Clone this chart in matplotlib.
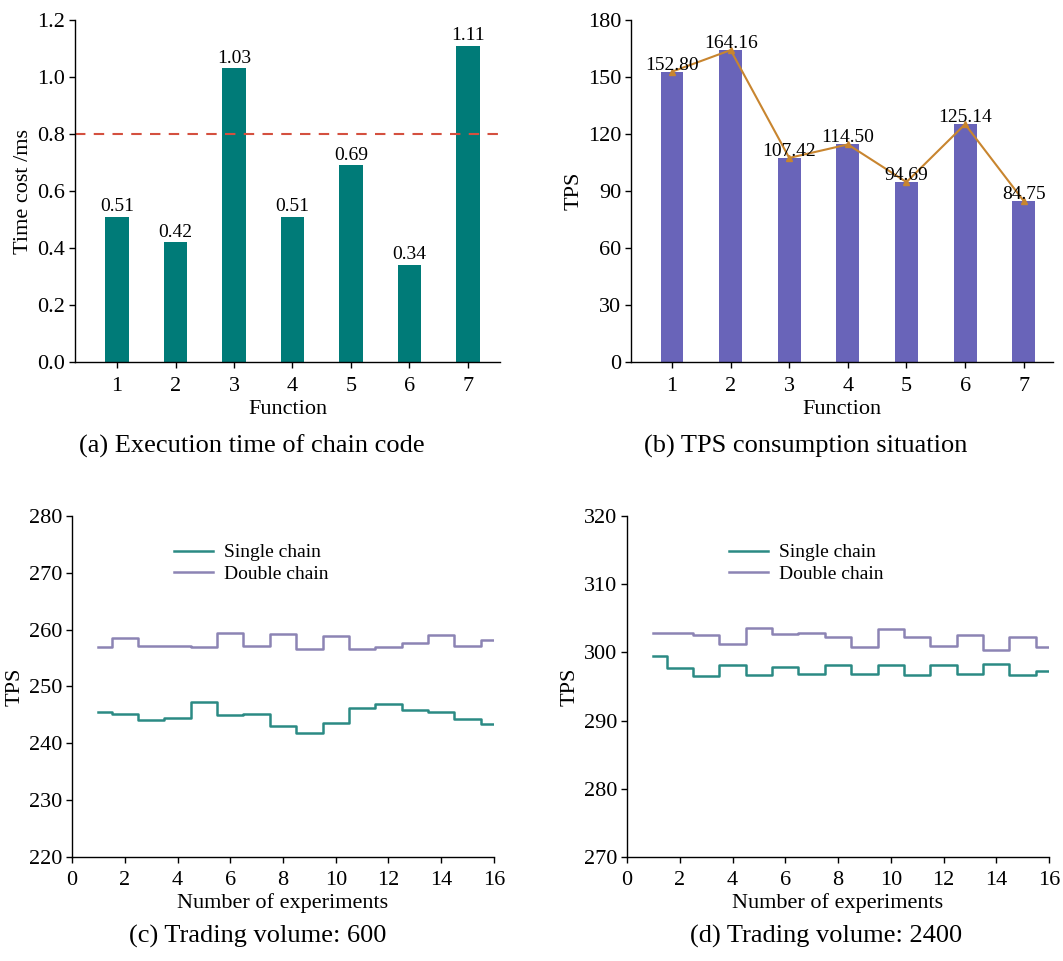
import matplotlib
matplotlib.use("Agg")
import matplotlib.pyplot as plt

plt.rcParams["font.family"] = ["Liberation Serif", "DejaVu Serif"]
plt.rcParams["axes.linewidth"] = 1.0

W, H = 1063, 961

# (a) execution time of chain code
functions = [1, 2, 3, 4, 5, 6, 7]
time_cost = [0.51, 0.42, 1.03, 0.51, 0.69, 0.34, 1.11]
threshold = 0.8

# (b) TPS per function
tps_func = [152.80, 164.16, 107.42, 114.50, 94.69, 125.14, 84.75]

# (c) trading volume 600
experiments = list(range(1, 17))
single_600 = [245.5, 245.2, 244.1, 244.5, 247.2, 245.0, 245.2, 243.1,
              241.9, 243.5, 246.2, 247.0, 245.9, 245.5, 244.2, 243.4]
double_600 = [256.9, 258.6, 257.1, 257.1, 256.9, 259.5, 257.1, 259.3,
              256.6, 258.8, 256.6, 256.9, 257.6, 259.0, 257.1, 258.1]

# (d) trading volume 2400
single_2400 = [299.4, 297.7, 296.5, 298.1, 296.7, 297.9, 296.9, 298.1,
               296.9, 298.1, 296.7, 298.1, 296.9, 298.3, 296.7, 297.3]
double_2400 = [302.9, 302.9, 302.5, 301.3, 303.6, 302.7, 302.9, 302.2,
               300.8, 303.4, 302.2, 300.9, 302.5, 300.3, 302.2, 300.8]

teal = "#007b78"
purple_bar = "#6964b9"
orange = "#c8852f"
step_teal = "#2b8a84"
step_purple = "#8c84b4"

TICK = 16
LABEL = 16
VAL = 14


def px_axes(fig, left, top, right, bottom):
    return fig.add_axes([left / W, 1 - bottom / H, (right - left) / W, (bottom - top) / H])


def style(ax, xpad):
    ax.spines["top"].set_visible(False)
    ax.spines["right"].set_visible(False)
    ax.tick_params(labelsize=TICK, length=4, width=1, pad=3)
    ax.tick_params(axis="x", pad=xpad)


fig = plt.figure(figsize=(W / 100, H / 100), dpi=100)

# ---- (a)
ax = px_axes(fig, 75, 20, 500, 362)
ax.bar(functions, time_cost, width=0.4, color=teal)
for x, v in zip(functions, time_cost):
    ax.text(x, v + 0.006, f"{v:.2f}", ha="center", va="bottom", fontsize=VAL)
ax.axhline(threshold, color="#d4503f", ls=(0, (5, 4)), lw=1.5)
ax.set_xlim(0.28, 7.55)
ax.set_ylim(0, 1.2)
ax.set_xticks(functions)
yt = [0.0, 0.2, 0.4, 0.6, 0.8, 1.0, 1.2]
ax.set_yticks(yt)
ax.set_yticklabels([f"{t:.1f}" for t in yt])
ax.set_xlabel("Function", fontsize=LABEL, labelpad=3)
ax.set_ylabel("Time cost /ms", fontsize=LABEL, labelpad=3)
style(ax, 7)

# ---- (b)
ax = px_axes(fig, 631, 20, 1053, 362)
ax.bar(functions, tps_func, width=0.39, color=purple_bar)
ax.plot(functions, tps_func, color=orange, lw=1.5, marker="^", ms=5)
for x, v in zip(functions, tps_func):
    ax.text(x, v - 1.0, f"{v:.2f}", ha="center", va="bottom", fontsize=VAL)
ax.set_xlim(0.30, 7.5)
ax.set_ylim(0, 180)
ax.set_xticks(functions)
ax.set_yticks(range(0, 181, 30))
ax.set_xlabel("Function", fontsize=LABEL, labelpad=3)
ax.set_ylabel("TPS", fontsize=LABEL, labelpad=3)
style(ax, 7)

# ---- (c)
ax = px_axes(fig, 72, 516, 494, 857)
ax.plot(experiments, single_600, drawstyle="steps-mid", color=step_teal, lw=1.8, label="Single chain")
ax.plot(experiments, double_600, drawstyle="steps-mid", color=step_purple, lw=1.8, label="Double chain")
ax.set_xlim(0, 16)
ax.set_ylim(220, 280)
ax.set_xticks(range(0, 17, 2))
ax.set_yticks(range(220, 281, 10))
ax.set_xlabel("Number of experiments", fontsize=LABEL, labelpad=2)
ax.set_ylabel("TPS", fontsize=LABEL, labelpad=3)
ax.legend(loc="upper left", bbox_to_anchor=(0.2, 0.97), frameon=False, fontsize=VAL,
          handlelength=2.0, handletextpad=0.6, labelspacing=0.2)
style(ax, 6)

# ---- (d)
ax = px_axes(fig, 627, 516, 1049, 857)
ax.plot(experiments, single_2400, drawstyle="steps-mid", color=step_teal, lw=1.8, label="Single chain")
ax.plot(experiments, double_2400, drawstyle="steps-mid", color=step_purple, lw=1.8, label="Double chain")
ax.set_xlim(0, 16)
ax.set_ylim(270, 320)
ax.set_xticks(range(0, 17, 2))
ax.set_yticks(range(270, 321, 10))
ax.set_xlabel("Number of experiments", fontsize=LABEL, labelpad=2)
ax.set_ylabel("TPS", fontsize=LABEL, labelpad=3)
ax.legend(loc="upper left", bbox_to_anchor=(0.2, 0.97), frameon=False, fontsize=VAL,
          handlelength=2.0, handletextpad=0.6, labelspacing=0.2)
style(ax, 6)

# captions
CAP = 19
fig.text(252 / W, 1 - 446 / H, "(a) Execution time of chain code", ha="center", va="center", fontsize=CAP)
fig.text(806 / W, 1 - 446 / H, "(b) TPS consumption situation", ha="center", va="center", fontsize=CAP)
fig.text(258 / W, 1 - 936 / H, "(c) Trading volume: 600", ha="center", va="center", fontsize=CAP)
fig.text(826 / W, 1 - 936 / H, "(d) Trading volume: 2400", ha="center", va="center", fontsize=CAP)

fig.savefig("out.png", dpi=100)
